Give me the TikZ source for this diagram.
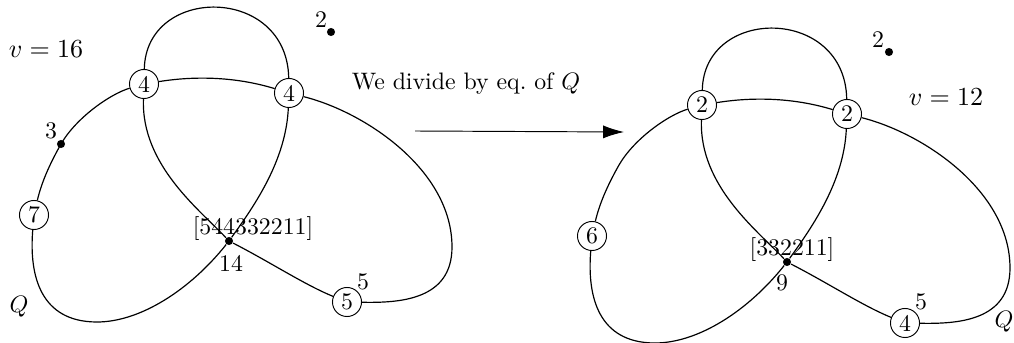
\documentclass[tikz,border=0pt]{standalone}
\usetikzlibrary{arrows.meta}
\tikzset{
  kn/.style={draw,circle,inner sep=0pt,minimum size=12.2pt,font=\normalsize},
  blackdot/.style={circle,fill=black,inner sep=0pt,minimum size=3.4pt},
  edge/.style={draw,line width=0.5pt},
  vlabel/.style={font=\fontsize{11}{13}\selectfont},
}
\newcommand{\trefoil}[5]{%
  \node[kn] (#1A) at (144,84) {#2};
  \node[kn] (#1B) at (289,93) {#3};
  \node[kn] (#1C) at (34,215) {#4};
  \node[kn] (#1D) at (347,302) {#5};
  \node[blackdot] (#1X) at (229,241) {};
  \coordinate (#1m) at (61,144);
  \coordinate (#1r) at (452,247);
  \coordinate (#1b) at (97,322);
  \path[edge] (#1A) .. controls (146,-15) and (287,-15) .. (#1B);
  \path[edge] (#1A) .. controls (200,75) and (240,78) .. (#1B);
  \path[edge] (#1A) .. controls (141,165) and (200,210) .. (#1X);
  \path[edge] (#1X) .. controls (270,262) and (305,285) .. (#1D);
  \path[edge] (#1B) .. controls (286,160) and (255,205) .. (#1X);
  \path[edge] (#1X) .. controls (190,290) and (140,322) .. (#1b)
     .. controls (40,322) and (29,275) .. (#1C);
  \path[edge] (#1C) .. controls (42,180) and (52,160) .. (#1m)
     .. controls (76,118) and (110,94) .. (#1A);
  \path[edge] (#1B) .. controls (365,112) and (452,170) .. (#1r)
     .. controls (452,300) and (400,303) .. (#1D);
}
\begin{document}
\begin{tikzpicture}[x=0.42pt,y=-0.42pt]
\useasboundingbox (0,0) rectangle (1014,343);
% left graph
\trefoil{L}{4}{4}{7}{5}
\node[blackdot] (Ld3) at (Lm) {};
\node (Ll3) at (51,131) {3};
\node[blackdot] (Ld2) at (331,32) {};
\node (Ll2) at (321,20) {2};
\node[vlabel] (Lv) at (46,49) {$v=16$};
\node (LQ) at (19,307) {$Q$};
\node (Lx) at (253,229) {[544332211]};
\node (Ln) at (231,263) {14};
\node (L5) at (363,282) {5};
% arrow
\node (txt) at (466,84) {We divide by eq.\ of $Q$};
\coordinate (a1) at (415,131);
\coordinate (a2) at (624,132);
\draw[-{Latex[length=8.8pt,width=5.5pt]}] (a1) -- (a2);
% right graph
\begin{scope}[shift={(558,21)}]
\trefoil{R}{2}{2}{6}{4}
\end{scope}
\node[blackdot] (Rd2) at (889,52) {};
\node (Rl2) at (878,40) {2};
\node[vlabel] (Rv) at (946,97) {$v=12$};
\node (RQ) at (1004,322) {$Q$};
\node (Rx) at (792,250) {[332211]};
\node (Rn) at (782,283) {9};
\node (R5) at (921,302) {5};
\end{tikzpicture}
\end{document}
